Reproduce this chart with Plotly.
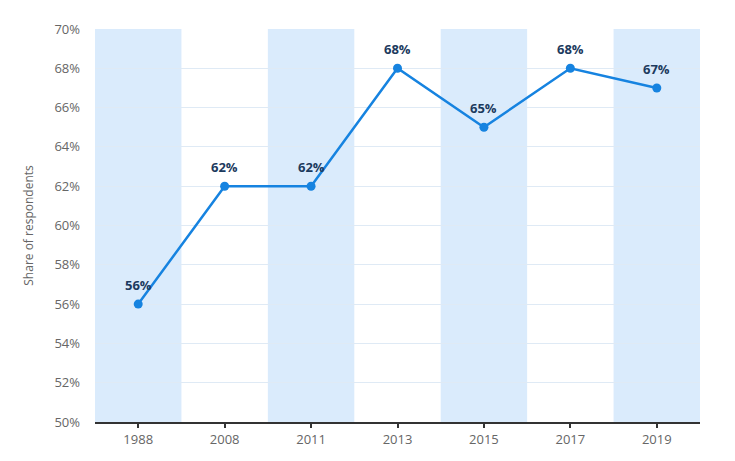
import plotly.graph_objects as go

years = ["1988", "2008", "2011", "2013", "2015", "2017", "2019"]
values = [56, 62, 62, 68, 65, 68, 67]
y_ticks = [50, 52, 54, 56, 58, 60, 62, 64, 66, 68, 70]
band_idx = [0, 2, 4, 6]

x = list(range(len(years)))

fig = go.Figure()
fig.add_trace(go.Scatter(
    x=x, y=values, mode="lines+markers",
    line=dict(color="#1683e0", width=2.5),
    marker=dict(color="#1683e0", size=9),
    hoverinfo="skip",
))

for xi, v in zip(x, values):
    fig.add_annotation(x=xi, y=v, text=f"<b>{v}%</b>", showarrow=False,
                       yshift=19, font=dict(family="Open Sans", size=13, color="#1c3a5e"))

for i in band_idx:
    fig.add_shape(type="rect", xref="x", yref="y", x0=i - 0.5, x1=i + 0.5,
                  y0=50, y1=70, fillcolor="#daebfc", line_width=0, layer="below")

fig.update_layout(
    width=727, height=453,
    margin=dict(l=87, r=35, t=18, b=39),
    paper_bgcolor="white", plot_bgcolor="white",
    showlegend=False,
    font=dict(family="Open Sans", color="#666"),
    xaxis=dict(range=[-0.5, 6.5], tickvals=x, ticktext=years,
               showgrid=False, zeroline=False,
               showline=True, linecolor="#333", linewidth=2,
               ticks="outside", ticklen=4, tickcolor="#333", tickwidth=2,
               tickfont=dict(size=13, color="#666"), fixedrange=True),
    yaxis=dict(range=[50, 70], tickvals=y_ticks,
               ticktext=[f"{v}%" for v in y_ticks],
               showgrid=True, gridcolor="#dfeaf5", gridwidth=1,
               zeroline=False, showline=False,
               ticklabelstandoff=14,
               tickfont=dict(size=13, color="#666"),
               title=dict(text="Share of respondents", font=dict(size=12, color="#666"), standoff=18)),
)

fig.write_html("out.html")
